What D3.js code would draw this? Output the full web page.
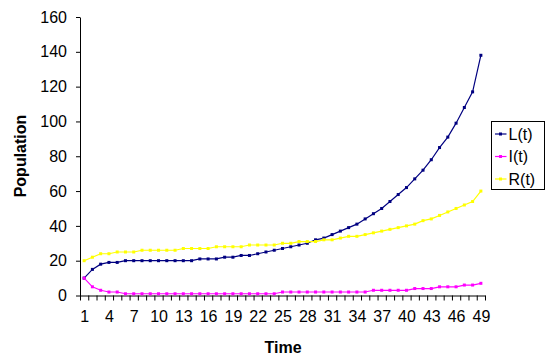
<!DOCTYPE html>
<html>
<head>
<meta charset="utf-8">
<script src="https://cdn.jsdelivr.net/npm/d3@7"></script>
<style>
  body { margin: 0; background: #fff; }
  svg { font-family: "Liberation Sans", Arial, sans-serif; }
  .axis path, .axis line { stroke: #000; }
  .axis text { font-size: 16px; fill: #000; }
  .axis-title { font-size: 16px; font-weight: bold; }
  .legend text { font-size: 16px; }
</style>
</head>
<body>
<div id="chart"></div>
<script>
// time steps 1..49
const times = d3.range(1, 50);
const xLabels = [1, 4, 7, 10, 13, 16, 19, 22, 25, 28, 31, 34, 37, 40, 43, 46, 49];
const yTicks = [0, 20, 40, 60, 80, 100, 120, 140, 160];

const lValues = [10, 15, 18, 19, 19, 20, 20, 20, 20, 20, 20, 20, 20, 20, 21, 21, 21, 22, 22, 23,
  23, 24, 25, 26, 27, 28, 29, 30, 32, 33, 35, 37, 39, 41, 44, 47, 50, 54, 58, 62,
  67, 72, 78, 85, 91, 99, 108, 117, 138];
const iValues = [10, 5, 3, 2, 2, 1, 1, 1, 1, 1, 1, 1, 1, 1, 1, 1, 1, 1, 1, 1,
  1, 1, 1, 1, 2, 2, 2, 2, 2, 2, 2, 2, 2, 2, 2, 3, 3, 3, 3, 3,
  4, 4, 4, 5, 5, 5, 6, 6, 7];
const rValues = [20, 22, 24, 24, 25, 25, 25, 26, 26, 26, 26, 26, 27, 27, 27, 27, 28, 28, 28, 28,
  29, 29, 29, 29, 30, 30, 31, 31, 31, 32, 32, 33, 34, 34, 35, 36, 37, 38, 39, 40,
  41, 43, 44, 46, 48, 50, 52, 54, 60];

const seriesNames = ['L(t)', 'I(t)', 'R(t)'];
const seriesColors = ['#000080', '#ff00ff', '#ffff00'];

const series = [lValues, iValues, rValues].map((vals, i) => ({
  name: seriesNames[i],
  color: seriesColors[i],
  values: vals.map((v, j) => ({t: times[j], v: v}))
}));

const width = 548, height = 355;
const svg = d3.select('#chart').append('svg')
    .attr('width', width)
    .attr('height', height);

// category axis: points sit in the middle of each slot
const x = d3.scaleLinear().domain([0.5, 49.5]).range([80, 485]);
const y = d3.scaleLinear().domain([0, 160]).range([295.5, 17]);

// y axis
svg.append('g')
    .attr('class', 'axis')
    .attr('transform', 'translate(80,0)')
    .call(d3.axisLeft(y).tickValues(yTicks).tickSize(4).tickPadding(9).tickSizeOuter(0));

// x axis tick marks between categories
const edges = d3.range(0.5, 50, 1);
svg.append('g')
    .attr('class', 'axis')
    .attr('transform', 'translate(0,295.5)')
    .call(d3.axisBottom(x).tickValues(edges).tickFormat('').tickSize(5).tickSizeOuter(0));

// x labels
const xl = svg.append('g')
    .attr('class', 'axis')
    .attr('transform', 'translate(0,295.5)')
    .call(d3.axisBottom(x).tickValues(xLabels).tickSize(0).tickPadding(15));
xl.select('.domain').remove();

// axis titles
svg.append('text')
    .attr('class', 'axis-title')
    .attr('x', 283)
    .attr('y', 353)
    .attr('text-anchor', 'middle')
    .text('Time');

svg.append('text')
    .attr('class', 'axis-title')
    .attr('transform', 'translate(26,156) rotate(-90)')
    .attr('text-anchor', 'middle')
    .text('Population');

// lines + markers
const line = d3.line()
    .x(d => x(d.t))
    .y(d => y(d.v));

const sg = svg.selectAll('.series')
    .data(series)
  .join('g')
    .attr('class', 'series');

sg.append('path')
    .attr('d', d => line(d.values))
    .attr('fill', 'none')
    .attr('stroke', d => d.color)
    .attr('stroke-width', 1.2);

sg.each(function(s) {
  d3.select(this).selectAll('rect')
      .data(s.values)
    .join('rect')
      .attr('x', d => x(d.t) - 1.5)
      .attr('y', d => y(d.v) - 1.5)
      .attr('width', 3)
      .attr('height', 3)
      .attr('fill', s.color);
});

// legend
const legend = svg.append('g')
    .attr('class', 'legend')
    .attr('transform', 'translate(491.5,121.5)');

legend.append('rect')
    .attr('width', 53)
    .attr('height', 68)
    .attr('fill', '#fff')
    .attr('stroke', '#000');

const items = legend.selectAll('.item')
    .data(series)
  .join('g')
    .attr('class', 'item')
    .attr('transform', (d, i) => `translate(0,${12.5 + i * 22.5})`);

items.append('line')
    .attr('x1', 3.5)
    .attr('x2', 15)
    .attr('stroke', d => d.color)
    .attr('stroke-width', 1.2);

items.append('rect')
    .attr('x', 7.5)
    .attr('y', -1.5)
    .attr('width', 3)
    .attr('height', 3)
    .attr('fill', d => d.color);

items.append('text')
    .attr('x', 17)
    .attr('dy', '0.35em')
    .text(d => d.name);
</script>
</body>
</html>
